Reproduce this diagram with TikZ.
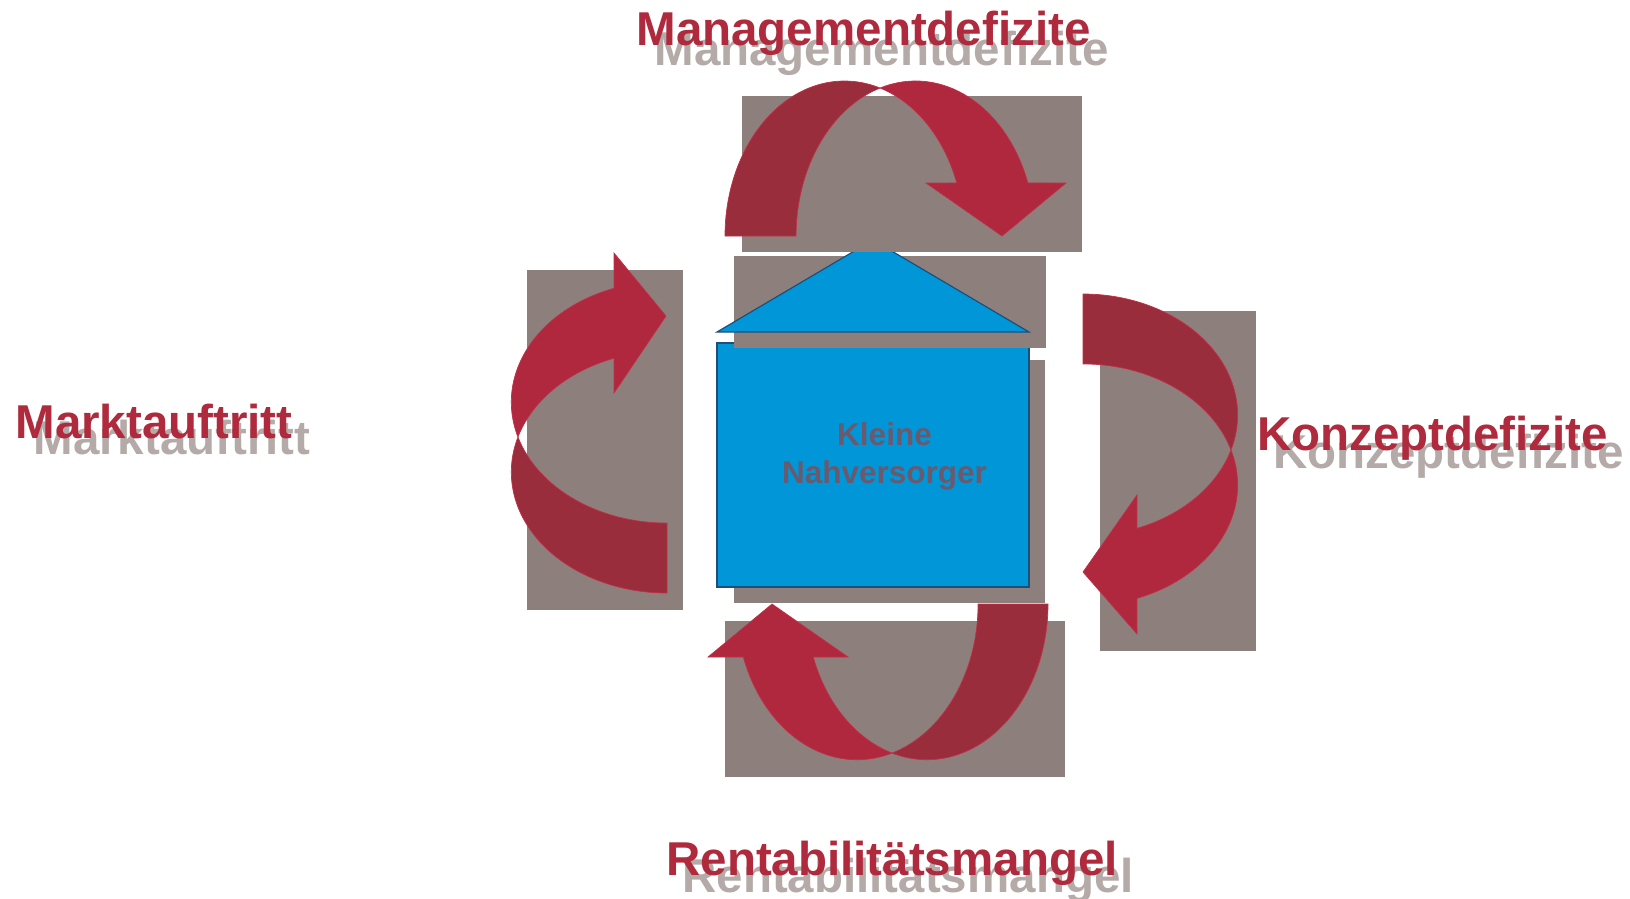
\documentclass[tikz,border=0pt]{standalone}
\usepackage{fontspec}
\setmainfont{Liberation Sans}
\definecolor{boxgray}{HTML}{8D807C}
\definecolor{lightred}{HTML}{B0283D}
\definecolor{darkred}{HTML}{992D3B}
\definecolor{edgered}{HTML}{C03048}
\definecolor{labelred}{HTML}{AE2A3C}
\definecolor{shadowgray}{HTML}{B4AAA7}
\definecolor{housefill}{HTML}{0096D8}
\definecolor{houseedge}{HTML}{1F4E79}
\definecolor{housetext}{HTML}{6B5A6D}
\begin{document}
\begin{tikzpicture}[x=1pt,y=1pt,
  graybox/.style={fill=boxgray},
  backband/.style={fill=darkred, draw=edgered, line width=0.7pt},
  frontband/.style={fill=lightred, draw=edgered, line width=0.7pt},
  lbl/.style={font=\fontsize{47.5}{52}\selectfont\bfseries, inner sep=0pt, anchor=base},
  redlbl/.style={lbl, text=labelred},
  shlbl/.style={lbl, text=shadowgray},
  housetxt/.style={font=\fontsize{31.5}{38}\selectfont\bfseries, inner sep=0pt, anchor=base, text=housetext}
]
\useasboundingbox (0,0) rectangle (1630,-898);

% house block
\fill[graybox] (734,-360) rectangle (1045,-603);
\node[draw=houseedge, fill=housefill, line width=1.6pt, minimum width=312pt, minimum height=244pt, inner sep=0pt] (house) at (873,-465) {};
\fill[graybox] (734,-256) rectangle (1046,-348);
\draw[houseedge, fill=housefill, line width=1.2pt, line join=miter] (717,-332) -- (873,-240) -- (1029,-332) -- cycle;
\node[housetxt] (kleine) at (884.5,-445) {Kleine};
\node[housetxt] (nahv) at (884.5,-483) {Nahversorger};

% gray panels behind arrows
\fill[graybox] (742,-96) rectangle (1082,-252);
\fill[graybox] (527,-270) rectangle (683,-610);
\fill[graybox] (1100,-311) rectangle (1256,-651);
\fill[graybox] (725,-621) rectangle (1065,-777);

% top arrow (Managementdefizite)
\draw[backband] (725,-236) arc[start angle=180, end angle=72.7, x radius=119.5, y radius=155]
  arc[start angle=107.3, end angle=180, x radius=119.5, y radius=155] -- cycle;
\draw[frontband] (880.04,-88.01) arc[start angle=107.3, end angle=20, x radius=119.5, y radius=155]
  -- (1066,-183) -- (1002,-236) -- (926,-183) -- (956.79,-182.99)
  arc[start angle=20, end angle=72.7, x radius=119.5, y radius=155] -- cycle;

% left arrow (Marktauftritt)
\draw[backband] (667,-593) arc[start angle=270, end angle=163.2, x radius=155.7, y radius=121]
  arc[start angle=196.8, end angle=270, x radius=155.7, y radius=121] -- cycle;
\draw[frontband] (517.95,-437.03) arc[start angle=196.8, end angle=109.9, x radius=155.7, y radius=121]
  -- (614,-253) -- (666,-316) -- (614,-393) -- (614,-358.22)
  arc[start angle=109.9, end angle=163.2, x radius=155.7, y radius=121] -- cycle;

% right arrow (Konzeptdefizite)
\draw[backband] (1083,-294) arc[start angle=90, end angle=-16.8, x radius=154.6, y radius=121]
  arc[start angle=16.8, end angle=90, x radius=154.6, y radius=121] -- cycle;
\draw[frontband] (1231.0,-449.97) arc[start angle=16.8, end angle=-69.6, x radius=154.6, y radius=121]
  -- (1137,-634) -- (1083,-572) -- (1137,-495) -- (1136.89,-528.41)
  arc[start angle=-69.6, end angle=-16.8, x radius=154.6, y radius=121] -- cycle;

% bottom arrow (Rentabilitaetsmangel)
\draw[backband] (1048,-604) arc[start angle=0, end angle=-106.8, x radius=121, y radius=155.7]
  arc[start angle=-73.2, end angle=0, x radius=121, y radius=155.7] -- cycle;
\draw[frontband] (892.03,-753.05) arc[start angle=-73.2, end angle=-160.1, x radius=121, y radius=155.7]
  -- (708,-657) -- (772,-604) -- (848,-657) -- (813.22,-657)
  arc[start angle=-160.1, end angle=-106.8, x radius=121, y radius=155.7] -- cycle;

% labels with shadows
\node[shlbl] (mgmtS) at (881.5,-65) {Managementdefizite};
\node[redlbl] (mgmt) at (863.5,-45) {Managementdefizite};
\node[shlbl] (marktS) at (172,-454) {Marktauftritt};
\node[redlbl] (markt) at (154,-438) {Marktauftritt};
\node[shlbl] (konzS) at (1448.5,-468) {Konzeptdefizite};
\node[redlbl] (konz) at (1432.5,-450) {Konzeptdefizite};
\node[shlbl] (rentS) at (908,-892) {Rentabilitätsmangel};
\node[redlbl] (rent) at (892,-875) {Rentabilitätsmangel};
\end{tikzpicture}
\end{document}
